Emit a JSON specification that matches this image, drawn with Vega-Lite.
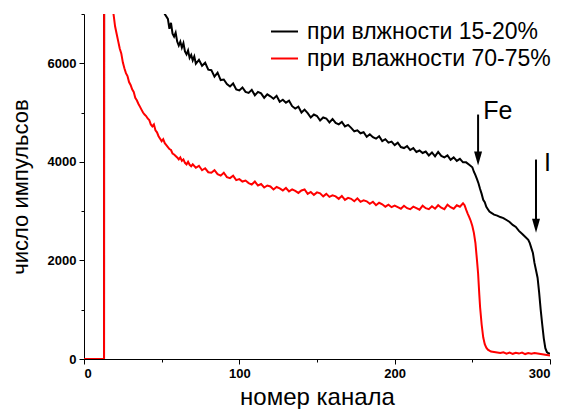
{
  "$schema": "https://vega.github.io/schema/vega-lite/v6.json",
  "width": 466,
  "height": 345,
  "autosize": {"type": "none"},
  "padding": {"left": 84, "top": 14, "right": 11, "bottom": 50},
  "background": "white",
  "config": {
    "view": {"stroke": null},
    "font": "Liberation Sans",
    "axis": {"grid": false, "domainColor": "black", "tickColor": "black", "labelColor": "black", "titleColor": "black", "labelFont": "Liberation Sans", "titleFont": "Liberation Sans"},
    "legend": {"labelFont": "Liberation Sans"}
  },
  "datasets": {
    "low": [
      {"c":0,"n":0},{"c":4,"n":0},{"c":8,"n":0},{"c":12,"n":0},{"c":12.9,"n":0},{"c":13,"n":16000},{"c":20,"n":12000},{"c":30,"n":9500},{"c":40,"n":8000},{"c":50,"n":7200},{"c":52,"n":7000},{"c":54,"n":6900},{"c":55,"n":6700},{"c":56,"n":6820},{"c":57,"n":6600},{"c":58,"n":6540},{"c":59,"n":6620},{"c":60,"n":6440},{"c":61,"n":6360},{"c":62,"n":6440},{"c":63,"n":6320},{"c":64,"n":6410},{"c":65,"n":6240},{"c":66,"n":6180},{"c":67,"n":6260},{"c":68,"n":6110},{"c":69,"n":6170},{"c":70,"n":6060},{"c":71,"n":6140},{"c":72,"n":5990},{"c":74,"n":6070},{"c":76,"n":5950},{"c":78,"n":6010},{"c":80,"n":5870},{"c":82,"n":5860},{"c":84,"n":5730},{"c":86,"n":5810},{"c":88,"n":5660},{"c":90,"n":5670},{"c":92,"n":5580},{"c":94,"n":5530},{"c":96,"n":5590},{"c":98,"n":5470},{"c":100,"n":5450},{"c":102,"n":5510},{"c":104,"n":5420},{"c":106,"n":5400},{"c":108,"n":5460},{"c":110,"n":5350},{"c":112,"n":5420},{"c":114,"n":5390},{"c":116,"n":5300},{"c":118,"n":5370},{"c":120,"n":5330},{"c":122,"n":5280},{"c":124,"n":5340},{"c":126,"n":5220},{"c":128,"n":5260},{"c":130,"n":5200},{"c":132,"n":5240},{"c":134,"n":5130},{"c":136,"n":5080},{"c":138,"n":5120},{"c":140,"n":5000},{"c":142,"n":5060},{"c":144,"n":4990},{"c":146,"n":4900},{"c":148,"n":4960},{"c":150,"n":4930},{"c":152,"n":4840},{"c":154,"n":4900},{"c":156,"n":4880},{"c":158,"n":4800},{"c":160,"n":4870},{"c":162,"n":4790},{"c":164,"n":4760},{"c":166,"n":4810},{"c":168,"n":4720},{"c":170,"n":4750},{"c":172,"n":4690},{"c":174,"n":4620},{"c":176,"n":4640},{"c":178,"n":4580},{"c":180,"n":4600},{"c":182,"n":4510},{"c":184,"n":4560},{"c":186,"n":4500},{"c":188,"n":4470},{"c":190,"n":4520},{"c":192,"n":4420},{"c":194,"n":4460},{"c":196,"n":4390},{"c":198,"n":4410},{"c":200,"n":4340},{"c":202,"n":4390},{"c":204,"n":4300},{"c":206,"n":4280},{"c":208,"n":4320},{"c":210,"n":4240},{"c":212,"n":4280},{"c":214,"n":4200},{"c":216,"n":4230},{"c":218,"n":4180},{"c":220,"n":4210},{"c":222,"n":4130},{"c":224,"n":4190},{"c":226,"n":4110},{"c":228,"n":4200},{"c":230,"n":4120},{"c":232,"n":4090},{"c":234,"n":4130},{"c":236,"n":4040},{"c":238,"n":4090},{"c":240,"n":4020},{"c":242,"n":4060},{"c":244,"n":3990},{"c":246,"n":3990},{"c":248,"n":3940},{"c":250,"n":3890},{"c":251,"n":3800},{"c":252,"n":3730},{"c":253,"n":3650},{"c":254,"n":3560},{"c":255,"n":3450},{"c":256,"n":3350},{"c":257,"n":3230},{"c":258,"n":3180},{"c":259,"n":3090},{"c":260,"n":3040},{"c":261,"n":2990},{"c":262,"n":2970},{"c":264,"n":2930},{"c":266,"n":2910},{"c":268,"n":2880},{"c":270,"n":2860},{"c":272,"n":2820},{"c":274,"n":2780},{"c":276,"n":2720},{"c":278,"n":2680},{"c":280,"n":2600},{"c":282,"n":2540},{"c":284,"n":2480},{"c":286,"n":2420},{"c":287,"n":2350},{"c":288,"n":2250},{"c":289,"n":2150},{"c":290,"n":1950},{"c":291,"n":1800},{"c":292,"n":1650},{"c":293,"n":1350},{"c":294,"n":1000},{"c":295,"n":700},{"c":296,"n":420},{"c":297,"n":220},{"c":298,"n":140},{"c":299,"n":115},{"c":300,"n":110}
    ],
    "high": [
      {"c":0,"n":0},{"c":4,"n":0},{"c":8,"n":0},{"c":12,"n":0},{"c":12.9,"n":0},{"c":13,"n":14000},{"c":14,"n":12000},{"c":16,"n":9000},{"c":18,"n":7400},{"c":19,"n":7000},{"c":20,"n":6750},{"c":21,"n":6600},{"c":22,"n":6450},{"c":23,"n":6300},{"c":24,"n":6200},{"c":25,"n":6020},{"c":26,"n":5900},{"c":27,"n":5800},{"c":28,"n":5740},{"c":29,"n":5620},{"c":30,"n":5560},{"c":31,"n":5470},{"c":32,"n":5420},{"c":33,"n":5300},{"c":34,"n":5250},{"c":35,"n":5180},{"c":36,"n":5120},{"c":37,"n":5060},{"c":38,"n":5000},{"c":39,"n":4960},{"c":40,"n":4930},{"c":41,"n":4880},{"c":42,"n":4850},{"c":43,"n":4760},{"c":44,"n":4720},{"c":45,"n":4760},{"c":46,"n":4640},{"c":47,"n":4600},{"c":48,"n":4520},{"c":49,"n":4470},{"c":50,"n":4420},{"c":51,"n":4460},{"c":52,"n":4380},{"c":53,"n":4340},{"c":54,"n":4300},{"c":55,"n":4260},{"c":56,"n":4240},{"c":57,"n":4170},{"c":58,"n":4150},{"c":59,"n":4120},{"c":60,"n":4090},{"c":61,"n":4050},{"c":62,"n":4090},{"c":63,"n":4020},{"c":64,"n":4050},{"c":65,"n":3980},{"c":66,"n":3950},{"c":67,"n":4000},{"c":68,"n":3940},{"c":69,"n":3910},{"c":70,"n":3950},{"c":72,"n":3880},{"c":74,"n":3920},{"c":76,"n":3830},{"c":78,"n":3870},{"c":80,"n":3790},{"c":82,"n":3780},{"c":84,"n":3830},{"c":86,"n":3750},{"c":88,"n":3720},{"c":90,"n":3780},{"c":92,"n":3690},{"c":94,"n":3670},{"c":96,"n":3720},{"c":98,"n":3630},{"c":100,"n":3650},{"c":102,"n":3600},{"c":104,"n":3620},{"c":106,"n":3570},{"c":108,"n":3540},{"c":110,"n":3600},{"c":112,"n":3520},{"c":114,"n":3550},{"c":116,"n":3480},{"c":118,"n":3520},{"c":120,"n":3500},{"c":122,"n":3440},{"c":124,"n":3490},{"c":126,"n":3460},{"c":128,"n":3420},{"c":130,"n":3470},{"c":132,"n":3400},{"c":134,"n":3440},{"c":136,"n":3410},{"c":138,"n":3370},{"c":140,"n":3420},{"c":142,"n":3440},{"c":144,"n":3350},{"c":146,"n":3390},{"c":148,"n":3330},{"c":150,"n":3380},{"c":152,"n":3360},{"c":154,"n":3300},{"c":156,"n":3350},{"c":158,"n":3290},{"c":160,"n":3320},{"c":162,"n":3300},{"c":164,"n":3250},{"c":166,"n":3310},{"c":168,"n":3230},{"c":170,"n":3270},{"c":172,"n":3250},{"c":174,"n":3200},{"c":176,"n":3260},{"c":178,"n":3190},{"c":180,"n":3220},{"c":182,"n":3200},{"c":184,"n":3150},{"c":186,"n":3190},{"c":188,"n":3120},{"c":190,"n":3170},{"c":192,"n":3140},{"c":194,"n":3090},{"c":196,"n":3130},{"c":198,"n":3080},{"c":200,"n":3110},{"c":202,"n":3080},{"c":204,"n":3050},{"c":206,"n":3110},{"c":208,"n":3060},{"c":210,"n":3040},{"c":212,"n":3090},{"c":214,"n":3060},{"c":216,"n":3030},{"c":218,"n":3110},{"c":220,"n":3060},{"c":222,"n":3040},{"c":224,"n":3100},{"c":226,"n":3050},{"c":228,"n":3120},{"c":230,"n":3070},{"c":232,"n":3040},{"c":234,"n":3130},{"c":236,"n":3080},{"c":238,"n":3050},{"c":240,"n":3120},{"c":242,"n":3090},{"c":244,"n":3160},{"c":245,"n":3120},{"c":246,"n":3030},{"c":247,"n":2950},{"c":248,"n":2880},{"c":249,"n":2800},{"c":250,"n":2700},{"c":251,"n":2560},{"c":252,"n":2350},{"c":253,"n":2000},{"c":253.7,"n":1740},{"c":254.5,"n":1300},{"c":255,"n":1050},{"c":256,"n":700},{"c":257,"n":440},{"c":258,"n":300},{"c":259,"n":230},{"c":260,"n":190},{"c":262,"n":150},{"c":264,"n":140},{"c":266,"n":130},{"c":268,"n":120},{"c":270,"n":135},{"c":272,"n":110},{"c":274,"n":130},{"c":276,"n":105},{"c":278,"n":125},{"c":280,"n":110},{"c":282,"n":130},{"c":284,"n":100},{"c":286,"n":120},{"c":288,"n":105},{"c":290,"n":120},{"c":292,"n":110},{"c":294,"n":100},{"c":296,"n":90},{"c":298,"n":80},{"c":300,"n":70}
    ],
    "arrows": [
      {"c": 253.7, "top": 4960, "head": 4067, "label": "Fe", "lc": 257, "ly": 5024},
      {"c": 291.0, "top": 4047, "head": 2703, "label": "I", "lc": 296.2, "ly": 3986}
    ]
  },
  "layer": [
    {
      "data": {"name": "low"},
      "mark": {"type": "line", "strokeWidth": 2, "clip": true},
      "encoding": {
        "x": {"field": "c", "type": "quantitative", "scale": {"domain": [0, 300], "nice": false, "zero": false},
          "axis": {"values": [0, 50, 100, 150, 200, 250, 300], "labelExpr": "datum.value % 100 === 0 ? datum.label : ''", "format": "d", "labelFontWeight": "bold", "labelFontSize": 13, "tickSize": {"condition": {"test": "datum.value % 100 === 0", "value": 5}, "value": 3}, "labelPadding": 3, "title": "номер канала", "titleFontSize": 24, "titleFontWeight": "normal", "titlePadding": 5, "orient": "bottom"}},
        "y": {"field": "n", "type": "quantitative", "scale": {"domain": [0, 7000], "nice": false},
          "axis": {"values": [0, 1000, 2000, 3000, 4000, 5000, 6000, 7000], "labelExpr": "datum.value % 2000 === 0 ? datum.label : ''", "format": "d", "labelFontWeight": "bold", "labelFontSize": 13, "tickSize": {"condition": {"test": "datum.value % 2000 === 0", "value": 5}, "value": 3}, "labelPadding": 3, "title": "число импульсов", "titleFontSize": 22, "titleFontWeight": "normal", "titlePadding": 15, "orient": "left"}},
        "color": {"datum": "при влжности 15-20%", "type": "nominal",
          "scale": {"domain": ["при влжности 15-20%", "при влажности 70-75%"], "range": ["#000000", "#ff0000"]},
          "legend": {"title": null, "orient": "none", "legendX": 186, "legendY": 3, "symbolType": "stroke", "symbolSize": 729, "symbolStrokeWidth": 2, "labelFontSize": 23, "labelOffset": 8, "labelLimit": 0, "labelColor": "black", "rowPadding": 0, "padding": 0}}
      }
    },
    {
      "data": {"name": "high"},
      "mark": {"type": "line", "strokeWidth": 2, "clip": true},
      "encoding": {
        "x": {"field": "c", "type": "quantitative"},
        "y": {"field": "n", "type": "quantitative"},
        "color": {"datum": "при влажности 70-75%", "type": "nominal"}
      }
    },
    {
      "data": {"name": "arrows"},
      "mark": {"type": "rule", "strokeWidth": 2, "color": "black"},
      "encoding": {
        "x": {"field": "c", "type": "quantitative"},
        "y": {"field": "top", "type": "quantitative"},
        "y2": {"field": "head"}
      }
    },
    {
      "data": {"name": "arrows"},
      "mark": {"type": "point", "shape": "M-0.57,-1L0.57,-1L0,1Z", "filled": true, "color": "black", "size": 196, "opacity": 1, "strokeWidth": 0},
      "encoding": {
        "x": {"field": "c", "type": "quantitative"},
        "y": {"field": "head", "type": "quantitative"}
      }
    },
    {
      "data": {"name": "arrows"},
      "mark": {"type": "text", "align": "left", "baseline": "middle", "fontSize": 25, "font": "Liberation Sans", "color": "black"},
      "encoding": {
        "x": {"field": "lc", "type": "quantitative"},
        "y": {"field": "ly", "type": "quantitative"},
        "text": {"field": "label"}
      }
    }
  ]
}
